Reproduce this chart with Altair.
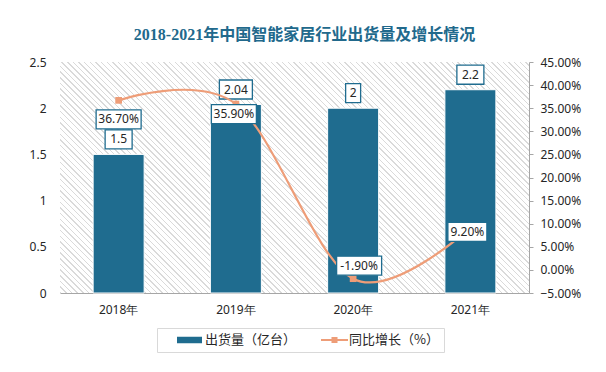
import altair as alt
import pandas as pd

# ---------------- data ----------------
years = ["2018年", "2019年", "2020年", "2021年"]
shipments = [1.5, 2.04, 2.0, 2.2]          # 出货量（亿台）
growth = [36.7, 35.9, -1.9, 9.2]           # 同比增长（%）
left_ticks = [0, 0.5, 1, 1.5, 2, 2.5]
right_ticks = [-5, 0, 5, 10, 15, 20, 25, 30, 35, 40, 45]
series_names = ["出货量（亿台）", "同比增长（%）"]
title_text = "2018-2021年中国智能家居行业出货量及增长情况"

# ---------------- style ----------------
BLUE = "#1F6C8F"
SALMON = "#EE9D78"
AXIS_GRAY = "#A6A6A6"
TEXT = "#262626"
FONT = "Noto Sans"
CJK = "Noto Sans CJK SC"
W, H = 469, 231

df = pd.DataFrame({"year": years, "ship": shipments, "pct": growth})
df["ship_label"] = [f"{v:g}" for v in shipments]
df["pct_label"] = [f"{v:.2f}%" for v in growth]
df["series"] = series_names[1]


def box_path(w, h, unit=30.0):
    hw, hh = w / 2 / unit, h / 2 / unit
    return f"M{-hw:.3f},{-hh:.3f}H{hw:.3f}V{hh:.3f}H{-hw:.3f}Z"


# diagonal hatch for the plot background (linear gradient with hard stripes)
def hatch_gradient(period_px=4.0, line_px=1.0, line_col="#DADADA", bg="#FFFFFF", ext=1.25):
    a, b = 1.0, -H / W
    n2 = a * a + b * b
    grad_per_px = ((a / W) ** 2 + (b / H) ** 2) ** 0.5 / n2 / ext
    dt = period_px * grad_per_px
    lt = line_px * grad_per_px
    stops = []
    t = 0.0
    while t < 1.0:
        stops += [
            {"offset": round(t, 5), "color": line_col},
            {"offset": round(min(t + lt, 1.0), 5), "color": line_col},
            {"offset": round(min(t + lt, 1.0), 5), "color": bg},
            {"offset": round(min(t + dt, 1.0), 5), "color": bg},
        ]
        t += dt
    return alt.LinearGradient(
        gradient="linear", x1=0, y1=1, x2=ext * a, y2=1 + ext * b, stops=stops
    )


x = alt.X(
    "year:N", sort=years, title=None,
    scale=alt.Scale(paddingInner=0, paddingOuter=0),
    axis=alt.Axis(labelAngle=0, ticks=False, tickSize=0, domainColor=AXIS_GRAY,
                  domainWidth=1, labelPadding=11, labelFontSize=12, labelFont=FONT,
                  labelColor=TEXT, grid=False),
)
yL = alt.Y(
    "ship:Q", title=None,
    scale=alt.Scale(domain=[0, 2.5], nice=False, zero=True),
    axis=alt.Axis(values=left_ticks, format="~g", domain=False, ticks=False, grid=False,
                  labelPadding=14, labelFontSize=12, labelFont=FONT, labelColor=TEXT),
)
yR = alt.Y(
    "pct:Q", title=None,
    scale=alt.Scale(domain=[-5, 45], nice=False, zero=False),
    axis=alt.Axis(orient="right", values=right_ticks,
                  labelExpr="format(datum.value, '.2f') + '%'",
                  domainColor=AXIS_GRAY, tickColor=AXIS_GRAY, tickSize=4,
                  labelPadding=7, grid=False, labelFontSize=12, labelFont=FONT,
                  labelColor=TEXT),
)

base = alt.Chart(df)

# background hatch
hatch = alt.Chart(pd.DataFrame({"k": [0]})).mark_rect(
    color=hatch_gradient(), strokeWidth=0
).encode(x=alt.value(0), x2=alt.value("width"), y=alt.value(0), y2=alt.value("height"))

# ----- bars + labels (left axis) -----
bars = base.mark_bar(width=51, color=BLUE, stroke="white", strokeWidth=1).encode(x=x, y=yL)
left_layers = [hatch, bars]
for i, yr in enumerate(years):
    t = df["ship_label"][i]
    w = 6 * len(t) + 9
    sub = base.transform_filter(alt.datum.year == yr)
    left_layers.append(
        sub.mark_point(shape=box_path(w, 19), size=3600, filled=True, fill="white",
                       stroke=BLUE, strokeWidth=1.3, opacity=1, yOffset=-15)
        .encode(x=x, y=yL)
    )
    left_layers.append(
        sub.mark_text(yOffset=-15, fontSize=12, font=FONT, color=TEXT, baseline="middle",
                      align="center").encode(x=x, y=yL, text="ship_label:N")
    )
left = alt.layer(*left_layers)

# ----- growth line + labels (right axis) -----
line = base.mark_line(interpolate="cardinal", color=SALMON, strokeWidth=2.2).encode(x=x, y=yR)
markers = base.mark_point(shape="square", filled=True, size=45, color=SALMON, opacity=1).encode(x=x, y=yR)

u = 7.0  # legend symbol unit (sqrt(196)/2)
rect_path = f"M{15/u-1:.3f},-0.464H{40/u-1:.3f}V0.464H{15/u-1:.3f}Z"
sq_c = 28.5 / u - 1
line_path = (f"M{15/u-1:.3f},-0.14H{42/u-1:.3f}V0.14H{15/u-1:.3f}Z "
             f"M{sq_c-0.43:.3f},-0.43H{sq_c+0.43:.3f}V0.43H{sq_c-0.43:.3f}Z")

legend_kw = dict(
    title=None, orient="none", direction="horizontal", legendX=97, legendY=266,
    padding=5, columnPadding=9, labelOffset=29, symbolSize=196, symbolStrokeWidth=0,
    symbolOpacity=1, labelFontSize=13, labelFont=CJK, labelColor=TEXT,
    strokeColor="#D9D9D9", fillColor="white", labelLimit=300,
)
legend_pts = base.mark_point(filled=True, opacity=0).encode(
    x=x, y=yR,
    color=alt.Color("series:N", scale=alt.Scale(domain=series_names, range=[BLUE, SALMON]),
                    legend=alt.Legend(**legend_kw)),
    shape=alt.Shape("series:N", scale=alt.Scale(domain=series_names, range=[rect_path, line_path]),
                    legend=alt.Legend(**legend_kw)),
)

right_layers = [line, markers, legend_pts]
pct_offsets = [(0, 19), (-2, 10), (6, -13), (-3, 4.5)]
for i, yr in enumerate(years):
    t = df["pct_label"][i]
    w = 6 * len(t) + 9
    dx, dy = pct_offsets[i]
    sub = base.transform_filter(alt.datum.year == yr)
    right_layers.append(
        sub.mark_point(shape=box_path(w, 19), size=3600, filled=True, fill="white",
                       stroke=BLUE, strokeWidth=1.3, opacity=1, xOffset=dx, yOffset=dy)
        .encode(x=x, y=yR)
    )
    right_layers.append(
        sub.mark_text(xOffset=dx, yOffset=dy, fontSize=12, font=FONT, color=TEXT,
                      baseline="middle", align="center").encode(x=x, y=yR, text="pct_label:N")
    )
right = alt.layer(*right_layers)

chart = (
    alt.layer(left, right)
    .resolve_scale(y="independent")
    .properties(
        width=W, height=H,
        autosize=alt.AutoSizeParams(type="none"),
        padding={"left": 52, "top": 54, "right": 69, "bottom": 71},
        title=alt.TitleParams(
            text=title_text, font="Liberation Serif, Noto Sans CJK SC", fontSize=16,
            fontWeight="bold", color="#21698C", anchor="middle", frame="group",
            dx=10, offset=13,
        ),
        background="white",
    )
    .configure_view(stroke=None)
)

chart.save("out.html", embed_options={"renderer": "svg", "actions": False})
